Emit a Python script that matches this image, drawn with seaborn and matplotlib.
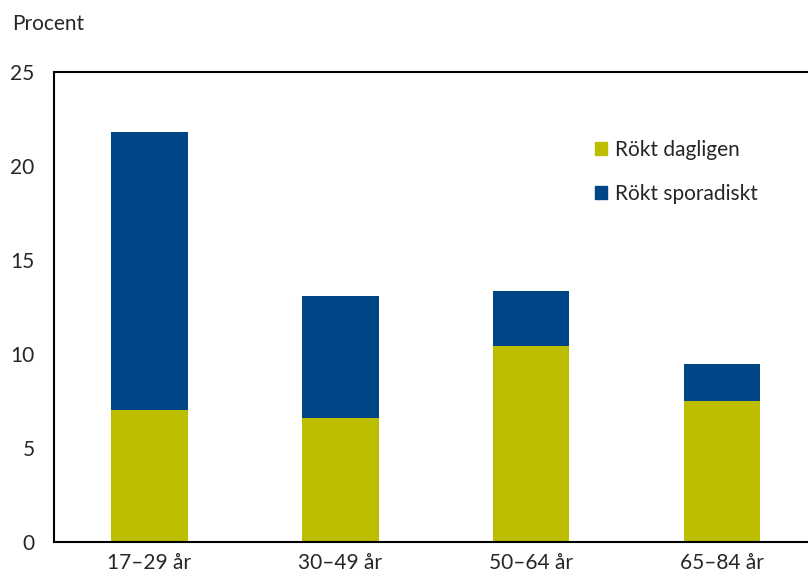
import pandas as pd
import seaborn as sns
import matplotlib.pyplot as plt
from matplotlib.patches import Patch

groups = ['17–29 år', '30–49 år', '50–64 år', '65–84 år']
daily = [7.0, 6.6, 10.4, 7.5]
sporadic = [14.8, 6.5, 2.95, 1.95]

YELLOW = '#BDBD00'
BLUE = '#004687'


def main():
    df = pd.DataFrame({'group': groups, 'daily': daily, 'sporadic': sporadic})
    df['total'] = df['daily'] + df['sporadic']

    sns.set_style('white')
    plt.rcParams['font.family'] = ['Lato', 'DejaVu Sans']

    fig = plt.figure(figsize=(8.08, 5.81), dpi=100)
    ax = fig.add_axes([54 / 808, 1 - 542 / 581, 1 - 54 / 808, 470 / 581])

    sns.barplot(data=df, x='group', y='total', color=BLUE, width=0.4,
                saturation=1, linewidth=0, ax=ax)
    sns.barplot(data=df, x='group', y='daily', color=YELLOW, width=0.4,
                saturation=1, linewidth=0, ax=ax)

    ax.set_xlim(-0.5, 3.45)
    ax.set_ylim(0, 25)
    ax.set_yticks([0, 5, 10, 15, 20, 25])
    ax.set_xlabel('')
    ax.set_ylabel('')
    ax.tick_params(axis='y', length=0, labelsize=15, pad=14)
    ax.tick_params(axis='x', length=4, width=1, direction='inout',
                   labelsize=15, pad=6, color='black')
    for s in ['left', 'bottom', 'top']:
        ax.spines[s].set_color('black')
        ax.spines[s].set_linewidth(1.5)
    ax.spines['right'].set_visible(False)

    fig.text(12 / 808, 1 - 24 / 581, 'Procent', fontsize=15, va='center')

    handles = [Patch(color=YELLOW, label='Rökt dagligen'),
               Patch(color=BLUE, label='Rökt sporadiskt')]
    ax.legend(handles=handles, loc='upper left', bbox_to_anchor=(0.692, 0.895),
              frameon=False, fontsize=15, handlelength=0.6, handleheight=0.6,
              handletextpad=0.4, labelspacing=1.15)

    fig.savefig('out.png', dpi=100)


if __name__ == '__main__':
    main()
